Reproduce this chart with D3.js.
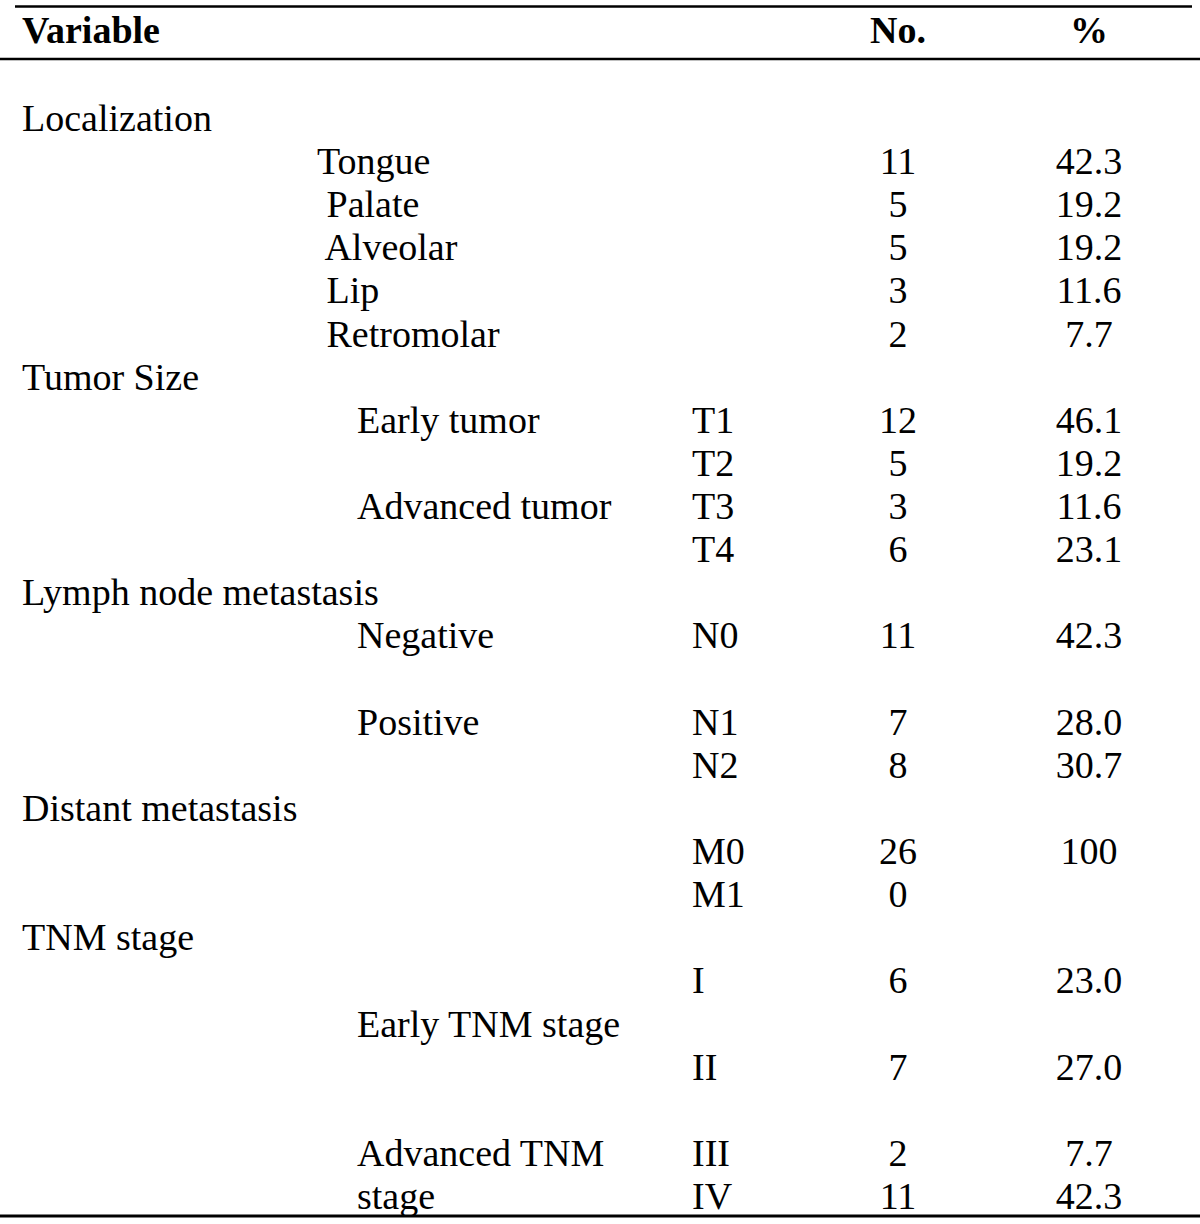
<!DOCTYPE html>
<html>
<head>
<meta charset="utf-8">
<script src="https://cdn.jsdelivr.net/npm/d3@7"></script>
<style>
  html, body { margin: 0; padding: 0; background: #fff; }
  svg text { font-family: "Liberation Serif", "Times New Roman", serif; fill: #000; white-space: pre; }
</style>
</head>
<body>
<svg id="chart" width="1200" height="1224"></svg>
<script>
// ---- data ----
const headers = ["Variable", "No.", "%"];
const variables = ["Localization", "Tumor Size", "Lymph node metastasis", "Distant metastasis", "TNM stage"];

const sites = ["Tongue", " Palate", " Alveolar", " Lip", " Retromolar"];
const siteNo = ["11", "5", "5", "3", "2"];
const sitePct = ["42.3", "19.2", "19.2", "11.6", "7.7"];

const tumorCodes = ["T1", "T2", "T3", "T4"];
const tumorNo = ["12", "5", "3", "6"];
const tumorPct = ["46.1", "19.2", "11.6", "23.1"];
const tumorGroups = ["Early tumor", "", "Advanced tumor", ""];

const nodeCodes = ["N0", "", "N1", "N2"];
const nodeNo = ["11", "", "7", "8"];
const nodePct = ["42.3", "", "28.0", "30.7"];
const nodeGroups = ["Negative", "", "Positive", ""];

const metCodes = ["M0", "M1"];
const metNo = ["26", "0"];
const metPct = ["100", ""];

const stageCodes = ["I", "", "II", "", "III", "IV"];
const stageNo = ["6", "", "7", "", "2", "11"];
const stagePct = ["23.0", "", "27.0", "", "7.7", "42.3"];
const stageGroups = ["", "Early TNM stage", "", "", "Advanced TNM", "stage"];

// ---- build rows ----
const rows = [];
function add(o) { rows.push(Object.assign({ variable: "", site: "", group: "", code: "", no: "", pct: "" }, o)); }
add({ variable: variables[0] });
sites.forEach((s, i) => add({ site: s, no: siteNo[i], pct: sitePct[i] }));
add({ variable: variables[1] });
tumorCodes.forEach((c, i) => add({ group: tumorGroups[i], code: c, no: tumorNo[i], pct: tumorPct[i] }));
add({ variable: variables[2] });
nodeCodes.forEach((c, i) => add({ group: nodeGroups[i], code: c, no: nodeNo[i], pct: nodePct[i] }));
add({ variable: variables[3] });
metCodes.forEach((c, i) => add({ code: c, no: metNo[i], pct: metPct[i] }));
add({ variable: variables[4] });
stageCodes.forEach((c, i) => add({ group: stageGroups[i], code: c, no: stageNo[i], pct: stagePct[i] }));
rows.forEach((r, i) => r.index = i);

// ---- layout ----
const svg = d3.select("#chart");
svg.append("rect").attr("width", 1200).attr("height", 1224).attr("fill", "#fff");

const fontSize = 38;
const y = d3.scaleLinear().domain([0, rows.length - 1]).range([131, 1209]);
const colKeys = ["variable", "site", "group", "code", "no", "pct"];
const x = d3.scaleOrdinal().domain(colKeys).range([22, 317, 357, 692, 898, 1089]);
const anchor = d3.scaleOrdinal().domain(colKeys).range(["start", "start", "start", "start", "middle", "middle"]);

// rules
svg.append("line").attr("x1", 15).attr("x2", 1192).attr("y1", 6.5).attr("y2", 6.5)
  .attr("stroke", "#000").attr("stroke-width", 2.5);
svg.append("line").attr("x1", 0).attr("x2", 1200).attr("y1", 59).attr("y2", 59)
  .attr("stroke", "#000").attr("stroke-width", 2.5);
svg.append("line").attr("x1", 0).attr("x2", 1200).attr("y1", 1216).attr("y2", 1216)
  .attr("stroke", "#000").attr("stroke-width", 3);

// header
const headerCols = ["variable", "no", "pct"];
svg.append("g").selectAll("text").data(headers).join("text")
  .attr("x", (d, i) => x(headerCols[i]))
  .attr("y", 43)
  .attr("text-anchor", (d, i) => anchor(headerCols[i]))
  .attr("font-size", fontSize)
  .attr("font-weight", "bold")
  .text(d => d);

// body cells
const cells = [];
rows.forEach(r => colKeys.forEach(k => { if (r[k] !== "") cells.push({ key: k, text: r[k], row: r.index }); }));
svg.append("g").selectAll("text").data(cells).join("text")
  .attr("x", d => x(d.key))
  .attr("y", d => y(d.row))
  .attr("text-anchor", d => anchor(d.key))
  .attr("font-size", fontSize)
  .text(d => d.text);
</script>
</body>
</html>
